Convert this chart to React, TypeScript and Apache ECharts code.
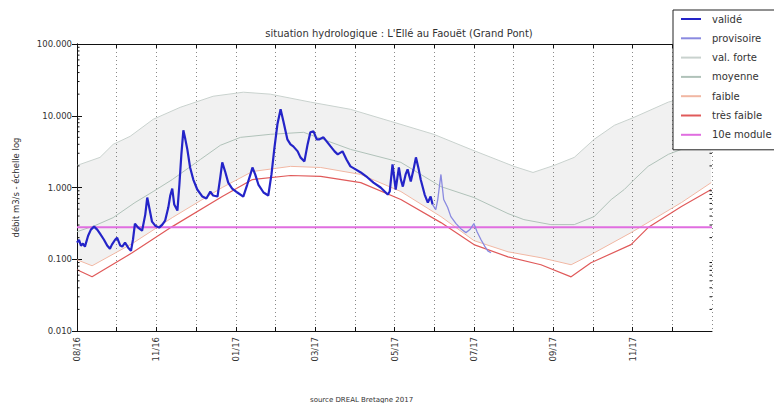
import React, { useEffect, useRef } from "react";
import * as echarts from "echarts";

// x = months since start of axis (0 = "08/16"), y = débit m3/s
const tickPositions = [0, 2, 4, 6, 8, 10, 12, 14];
const tickLabels = ["08/16", "11/16", "01/17", "03/17", "05/17", "07/17", "09/17", "11/17"];
const decades = [0.01, 0.1, 1, 10];
const minorMultipliers = [2, 3, 4, 5, 6, 7, 8, 9];

const valide: [number, number][] = [
  [0, 0.17], [0.05, 0.187], [0.1, 0.155], [0.15, 0.165], [0.2, 0.15], [0.28, 0.213], [0.35, 0.259], [0.43, 0.285],
  [0.51, 0.259], [0.58, 0.227], [0.68, 0.187], [0.76, 0.155], [0.83, 0.14], [0.88, 0.16], [0.96, 0.187], [1.01, 0.2],
  [1.09, 0.155], [1.14, 0.15], [1.21, 0.17], [1.29, 0.145], [1.36, 0.131], [1.41, 0.187], [1.46, 0.314], [1.54, 0.276],
  [1.64, 0.25], [1.72, 0.419], [1.77, 0.725], [1.84, 0.462], [1.89, 0.334], [1.97, 0.294], [2.07, 0.276], [2.15, 0.304],
  [2.22, 0.345], [2.3, 0.525], [2.35, 0.773], [2.4, 0.968], [2.45, 0.578], [2.53, 0.477], [2.58, 1.1], [2.63, 2.9],
  [2.68, 6.27], [2.73, 4.69], [2.78, 3.4], [2.85, 1.9], [2.93, 1.29], [3.03, 0.938], [3.16, 0.748], [3.26, 0.702],
  [3.36, 0.879], [3.43, 0.773], [3.54, 0.748], [3.61, 1.38], [3.66, 2.24], [3.74, 1.62], [3.81, 1.17], [3.91, 0.968],
  [4.04, 0.851], [4.19, 0.748], [4.29, 1.1], [4.37, 1.52], [4.42, 1.9], [4.49, 1.52], [4.57, 1.1], [4.7, 0.851],
  [4.82, 0.773], [4.9, 1.52], [4.97, 3.4], [5.05, 7.6], [5.13, 12.3], [5.2, 8.37], [5.3, 4.69], [5.38, 3.99],
  [5.45, 3.74], [5.56, 3.19], [5.63, 2.63], [5.73, 2.31], [5.81, 3.99], [5.88, 5.88], [5.96, 6.07], [6.04, 4.69],
  [6.11, 4.69], [6.21, 5.0], [6.31, 4.26], [6.39, 3.74], [6.49, 3.19], [6.57, 2.9], [6.69, 3.19], [6.79, 2.46],
  [6.89, 1.97], [7.02, 1.79], [7.15, 1.62], [7.32, 1.38], [7.47, 1.17], [7.65, 1.0], [7.83, 0.798], [7.88, 0.879],
  [7.95, 2.1], [8.03, 0.938], [8.11, 1.9], [8.16, 1.29], [8.21, 1.03], [8.28, 1.52], [8.33, 1.79], [8.41, 1.21],
  [8.48, 1.79], [8.54, 2.63], [8.61, 1.79], [8.66, 1.29], [8.76, 0.798], [8.84, 0.617], [8.91, 0.748], [8.96, 0.578],
];

const provisoire: [number, number][] = [
  [8.96, 0.578], [9.04, 0.492], [9.09, 0.679], [9.17, 1.52], [9.24, 0.679], [9.34, 0.525], [9.42, 0.393], [9.55, 0.314],
  [9.67, 0.267], [9.8, 0.235], [9.9, 0.259], [10.0, 0.314], [10.08, 0.242], [10.18, 0.187], [10.28, 0.15], [10.35, 0.131],
  [10.43, 0.123],
];

const valForte: [number, number][] = [
  [0, 2.03], [0.58, 2.63], [0.91, 3.99], [1.34, 5.17], [1.92, 8.93], [2.6, 13.1], [3.43, 18.7], [4.19, 21.3],
  [4.87, 20.0], [5.88, 15.5], [6.89, 12.3], [7.9, 8.37], [8.99, 5.51], [9.92, 3.4], [11.01, 1.97], [11.49, 1.62],
  [12.02, 2.03], [12.53, 2.63], [13.03, 4.69], [13.54, 7.36], [14.04, 9.53], [14.9, 15.5], [15.48, 18.7], [15.98, 22.0],
];

const moyenne: [number, number][] = [
  [0, 0.242], [0.45, 0.294], [0.91, 0.38], [1.46, 0.617], [1.92, 0.879], [2.4, 1.29], [3.11, 2.46], [3.61, 3.87],
  [4.12, 5.0], [4.87, 5.51], [5.71, 5.88], [6.89, 3.4], [8.16, 2.24], [9.17, 1.03], [10.0, 0.725], [10.86, 0.433],
  [11.26, 0.357], [11.94, 0.304], [12.53, 0.304], [13.03, 0.393], [13.46, 0.679], [13.79, 0.938], [14.04, 1.29],
  [14.39, 1.97], [14.9, 2.9], [15.23, 3.4], [15.73, 4.69], [15.98, 5.17],
];

const faible: [number, number][] = [
  [0, 0.0984], [0.38, 0.0811], [1.39, 0.165], [2.4, 0.38], [3.66, 1.0], [4.42, 1.67], [5.38, 1.97], [6.14, 1.9],
  [7.15, 1.52], [8.16, 0.879], [9.17, 0.393], [10.0, 0.182], [10.86, 0.127], [11.69, 0.105], [12.45, 0.0838],
  [12.95, 0.116], [13.96, 0.235], [15.23, 0.617], [15.98, 1.17],
];

const tresFaible: [number, number][] = [
  [0, 0.0713], [0.38, 0.0569], [1.39, 0.123], [2.4, 0.285], [3.66, 0.748], [4.42, 1.29], [5.38, 1.47], [6.14, 1.43],
  [7.15, 1.17], [8.16, 0.679], [9.17, 0.324], [10.0, 0.16], [10.86, 0.108], [11.69, 0.0838], [12.45, 0.0569],
  [12.95, 0.0893], [13.96, 0.16], [14.39, 0.276], [15.23, 0.542], [15.98, 0.938],
];

const dixiemeModule = 0.28;
const xRange: [number, number] = [0, 16];

const FONT = "DejaVu Sans";

export default function App() {
  const ref = useRef<HTMLDivElement>(null);
  useEffect(() => {
    if (!ref.current) return;
    const chart = echarts.init(ref.current, undefined, { renderer: "svg" });
    const labelFor = (v: number) => {
      const i = tickPositions.indexOf(Math.round(v));
      return i >= 0 && Math.abs(v - Math.round(v)) < 1e-6 ? tickLabels[i] : "";
    };
    const lineSeries = (name: string, data: [number, number][], color: string, width: number, z = 3) => ({
      name,
      type: "line",
      data,
      symbol: "none",
      showSymbol: false,
      lineStyle: { color, width },
      itemStyle: { color },
      z,
      silent: true,
    });
    const moduleData: [number, number][] = [
      [xRange[0], dixiemeModule],
      [xRange[1], dixiemeModule],
    ];
    const minorTickValues: number[] = [];
    decades.forEach((d) => minorMultipliers.forEach((m) => minorTickValues.push(d * m)));

    chart.setOption({
      animation: false,
      backgroundColor: "#fff",
      textStyle: { fontFamily: FONT },
      title: {
        text: "situation hydrologique : L'Ellé au Faouët (Grand Pont)",
        left: 394,
        textAlign: "center",
        top: 23,
        textStyle: { fontSize: 10, fontWeight: "normal", color: "#333", fontFamily: FONT },
      },
      legend: {
        orient: "vertical",
        left: 673,
        top: 10,
        padding: [4, 40, 10, 7],
        itemWidth: 20,
        itemHeight: 12,
        itemGap: 9.3,
        itemStyle: { opacity: 0 },
        borderColor: "#222",
        borderWidth: 1,
        backgroundColor: "#fff",
        textStyle: { fontSize: 10, color: "#333", fontFamily: FONT, padding: [0, 0, 0, 6] },
        data: ["validé", "provisoire", "val. forte", "moyenne", "faible", "très faible", "10e module"],
        z: 10,
      },
      grid: { left: 77, right: 70, top: 44, bottom: 80 },
      xAxis: [
        {
          type: "value",
          min: xRange[0],
          max: xRange[1],
          interval: 1,
          axisLine: { show: true, lineStyle: { color: "#111", width: 1 } },
          axisTick: { show: true, inside: true, length: 4, lineStyle: { color: "#111" } },
          axisLabel: {
            rotate: 90,
            fontSize: 8.5,
            color: "#333",
            margin: 6,
            formatter: labelFor,
            showMinLabel: true,
            showMaxLabel: false,
          },
          splitLine: { show: true, lineStyle: { color: "#8a8a8a", type: [1, 3], width: 1 } },
        },
        {
          type: "value",
          position: "top",
          min: xRange[0],
          max: xRange[1],
          interval: 1,
          axisLine: { show: true, lineStyle: { color: "#111", width: 1 } },
          axisTick: { show: true, inside: true, length: 4, lineStyle: { color: "#111" } },
          axisLabel: { show: false },
          splitLine: { show: false },
        },
      ],
      yAxis: [
        {
          type: "log",
          logBase: 10,
          min: 0.01,
          max: 100,
          name: "débit m3/s - échelle log",
          nameLocation: "middle",
          nameGap: 57,
          nameRotate: 90,
          nameTextStyle: { fontSize: 8.5, color: "#333" },
          axisLine: { show: true, lineStyle: { color: "#111", width: 1 } },
          axisTick: { show: true, inside: true, length: 5, lineStyle: { color: "#111" } },
          axisLabel: {
            fontSize: 8.5,
            color: "#333",
            margin: 5,
            formatter: (v: number) => v.toFixed(3),
          },
          splitLine: { show: false },
        },
        {
          type: "log",
          logBase: 10,
          min: 0.01,
          max: 100,
          position: "right",
          axisLine: { show: true, lineStyle: { color: "#111", width: 1 } },
          axisTick: { show: true, inside: true, length: 5, lineStyle: { color: "#111" } },
          axisLabel: { show: false },
          splitLine: { show: false },
        },
      ],
      series: [
        {
          type: "custom",
          name: "band",
          silent: true,
          z: 1,
          data: [[1, 1]],
          renderItem: (_params: any, api: any) => {
            const pts: number[][] = [];
            valForte.forEach((p) => pts.push(api.coord(p)));
            for (let i = faible.length - 1; i >= 0; i--) pts.push(api.coord(faible[i]));
            return {
              type: "polygon",
              shape: { points: pts },
              style: { fill: "rgba(0,0,0,0.055)", stroke: "none" },
            };
          },
        },
        {
          type: "custom",
          name: "minorTicks",
          silent: true,
          z: 8,
          data: minorTickValues.map((v) => [xRange[0], v]),
          renderItem: (_params: any, api: any) => {
            const v = api.value(1);
            const l = api.coord([xRange[0], v]);
            const r = api.coord([xRange[1], v]);
            return {
              type: "group",
              children: [
                { type: "line", shape: { x1: l[0], y1: l[1], x2: l[0] + 2.5, y2: l[1] }, style: { stroke: "#111", lineWidth: 1 } },
                { type: "line", shape: { x1: r[0] - 2.5, y1: r[1], x2: r[0], y2: r[1] }, style: { stroke: "#111", lineWidth: 1 } },
              ],
            };
          },
        },
        lineSeries("validé", valide, "#2424c8", 2.2, 6),
        lineSeries("provisoire", provisoire, "#8a8ae0", 1.3, 5),
        lineSeries("val. forte", valForte, "#c9d2ce", 1),
        lineSeries("moyenne", moyenne, "#b0c2b9", 1),
        lineSeries("faible", faible, "#f1b7a3", 1),
        lineSeries("très faible", tresFaible, "#e05a5a", 1.2),
        lineSeries("10e module", moduleData, "#e06ee0", 2, 4),
      ],
      graphic: [
        {
          type: "text",
          left: 310,
          top: 396,
          style: { text: "source DREAL Bretagne 2017", fontSize: 7, fill: "#333", fontFamily: FONT },
        },
      ],
    });
    return () => chart.dispose();
  }, []);
  return <div ref={ref} style={{ width: 782, height: 411, margin: -8 }} />;
}
